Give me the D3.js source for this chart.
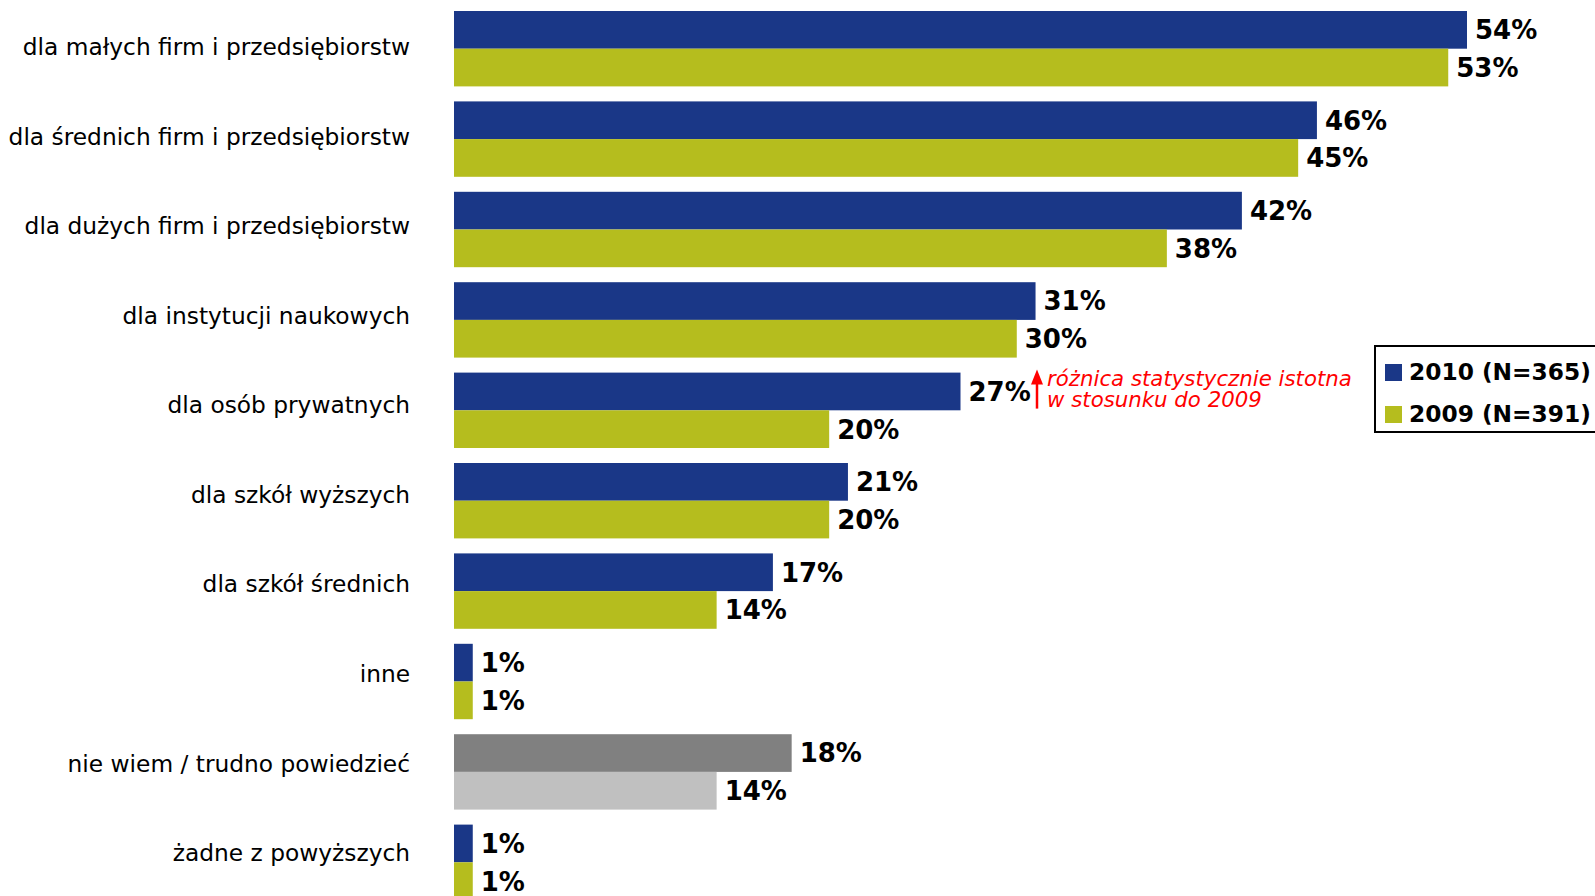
<!DOCTYPE html>
<html>
<head>
<meta charset="utf-8">
<script src="https://cdn.jsdelivr.net/npm/d3@7"></script>
<style>
  body { margin: 0; background: #fff; }
  svg { display: block; font-family: "DejaVu Sans", Verdana, sans-serif; }
</style>
</head>
<body>
<div id="chart"></div>
<script>
// dane z wykresu
const categories = [
    "dla małych firm i przedsiębiorstw",
    "dla średnich firm i przedsiębiorstw",
    "dla dużych firm i przedsiębiorstw",
    "dla instytucji naukowych",
    "dla osób prywatnych",
    "dla szkół wyższych",
    "dla szkół średnich",
    "inne",
    "nie wiem / trudno powiedzieć",
    "żadne z powyższych"
];
const values2010 = [54, 46, 42, 31, 27, 21, 17, 1, 18, 1];
const values2009 = [53, 45, 38, 30, 20, 20, 14, 1, 14, 1];
const seriesNames = ["2010 (N=365)", "2009 (N=391)"];

const width = 1595;
const height = 896;
const left = 454;

const svg = d3.select("#chart")
    .append("svg")
    .attr("width", width)
    .attr("height", height);

// skale
const x = d3.scaleLinear()
    .domain([0, 54])
    .range([left, 1467]);

const y0 = d3.scaleBand()
    .domain(categories)
    .range([11, 900])
    .paddingInner(0.166)
    .paddingOuter(0)
    .align(0);

const y1 = d3.scaleBand()
    .domain(["2010", "2009"])
    .range([0, y0.bandwidth()]);

// pozycje nazw kategorii (lekko inne niż paski)
const yLabel = d3.scalePoint()
    .domain(categories)
    .range([47, 853]);

const colors = { "2010": "#1a3787", "2009": "#b5bd1e" };
const grayColors = { "2010": "#808080", "2009": "#c0c0c0" };

const rows = [];
categories.forEach((c, i) => {
    rows.push({ cat: c, year: "2010", value: values2010[i] });
    rows.push({ cat: c, year: "2009", value: values2009[i] });
});

// paski
svg.selectAll(".bar")
    .data(rows)
    .enter()
    .append("rect")
    .attr("class", "bar")
    .attr("x", x(0))
    .attr("y", d => y0(d.cat) + y1(d.year))
    .attr("width", d => x(d.value) - x(0))
    .attr("height", y1.bandwidth())
    .attr("fill", d => d.cat.startsWith("nie wiem") ? grayColors[d.year] : colors[d.year]);

// etykiety wartości
svg.selectAll(".label")
    .data(rows)
    .enter()
    .append("text")
    .attr("x", d => x(d.value) + 8)
    .attr("y", d => y0(d.cat) + y1(d.year) + y1.bandwidth() / 2)
    .attr("dy", "0.36em")
    .attr("font-size", "26px")
    .attr("font-weight", "bold")
    .attr("fill", "#000")
    .text(d => d.value + "%");

// nazwy kategorii
svg.selectAll(".cat")
    .data(categories)
    .enter()
    .append("text")
    .attr("x", 410)
    .attr("y", d => yLabel(d))
    .attr("dy", "0.35em")
    .attr("text-anchor", "end")
    .attr("font-size", "23.3px")
    .attr("fill", "#000")
    .text(d => d);

// adnotacja: różnica istotna
const annCat = "dla osób prywatnych";
const ax = 1037;
const ay = y0(annCat);
svg.append("line")
    .attr("x1", ax).attr("x2", ax)
    .attr("y1", ay + 10).attr("y2", ay + 36)
    .attr("stroke", "#ff0000")
    .attr("stroke-width", 2.5);
svg.append("path")
    .attr("d", `M${ax - 6},${ay + 12} L${ax},${ay - 3} L${ax + 6},${ay + 12} Z`)
    .attr("fill", "#ff0000");
const ann = svg.append("text")
    .attr("x", ax + 10)
    .attr("y", ay + 13)
    .attr("font-size", "21.3px")
    .attr("font-style", "italic")
    .attr("fill", "#ff0000");
ann.append("tspan").attr("x", ax + 10).text("różnica statystycznie istotna");
ann.append("tspan").attr("x", ax + 10).attr("dy", 21).text("w stosunku do 2009");

// legenda
const legend = svg.append("g");
legend.append("rect")
    .attr("x", 1375)
    .attr("y", 346)
    .attr("width", 240)
    .attr("height", 86)
    .attr("fill", "#fff")
    .attr("stroke", "#000")
    .attr("stroke-width", 2);
seriesNames.forEach((name, i) => {
    const cy = 372 + i * 42;
    legend.append("rect")
        .attr("x", 1385)
        .attr("y", cy - 8)
        .attr("width", 17)
        .attr("height", 17)
        .attr("fill", i === 0 ? colors["2010"] : colors["2009"]);
    legend.append("text")
        .attr("x", 1409)
        .attr("y", cy)
        .attr("dy", "0.36em")
        .attr("font-size", "23.3px")
        .attr("font-weight", "bold")
        .text(name);
});
</script>
</body>
</html>
